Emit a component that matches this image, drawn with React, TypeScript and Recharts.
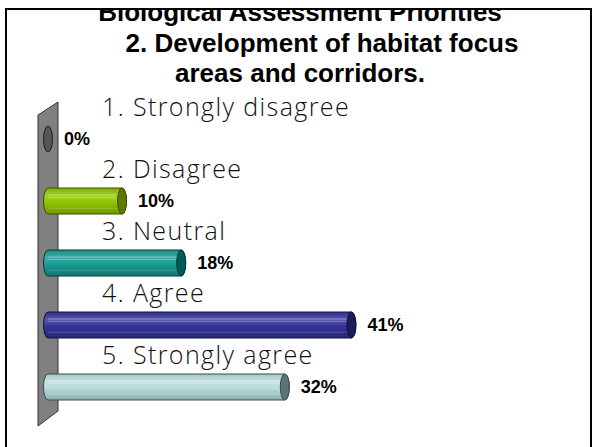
import React from 'react';
import { BarChart, Bar, XAxis, YAxis, LabelList, ReferenceArea } from 'recharts';

const categories = ['1. Strongly disagree', '2. Disagree', '3. Neutral', '4. Agree', '5. Strongly agree'];
const values = [0, 10, 18, 41, 32];
const valueLabels = ['0%', '10%', '18%', '41%', '32%'];
const bodyColors = ['#6a6a6a', '#8fc400', '#1a9a94', '#33339a', '#b8dcdc'];
const capColors = ['#555555', '#5c7a00', '#005a55', '#1c1c5c', '#5a7474'];
const titleLines = ['Biological Assessment Priorities', '2. Development of habitat focus', 'areas and corridors.'];

const data = categories.map((name, i) => ({ name, value: values[i], label: valueLabels[i] }));

const W = 594;
const H = 447;

function mix(hex: string, target: string, t: number): string {
  const p = (h: string) => [1, 3, 5].map((k) => parseInt(h.slice(k, k + 2), 16));
  const a = p(hex);
  const b = p(target);
  const c = a.map((v, i) => Math.round(v + (b[i] - v) * t));
  return '#' + c.map((v) => v.toString(16).padStart(2, '0')).join('');
}

const Cylinder = (props: any) => {
  const { x, y, width, height, index } = props;
  const rx = 4.5;
  const ry = height / 2;
  const cy = y + ry;
  const body = bodyColors[index];
  const cap = capColors[index];
  const edge = mix(cap, '#000000', 0.35);
  if (!width || width < 0.5) {
    return <ellipse cx={x} cy={cy} rx={rx} ry={ry} fill={cap} stroke="#222" strokeWidth={1} />;
  }
  const x2 = x + width;
  const id = `cyl-grad-${index}`;
  const d = `M ${x} ${y} L ${x2} ${y} A ${rx} ${ry} 0 0 1 ${x2} ${y + height} L ${x} ${y + height} A ${rx} ${ry} 0 0 1 ${x} ${y} Z`;
  return (
    <g>
      <defs>
        <linearGradient id={id} x1="0" y1="0" x2="0" y2="1">
          <stop offset="0" stopColor={mix(body, '#000000', 0.1)} />
          <stop offset="0.3" stopColor={mix(body, '#ffffff', 0.18)} />
          <stop offset="0.55" stopColor={body} />
          <stop offset="1" stopColor={mix(body, '#000000', 0.22)} />
        </linearGradient>
      </defs>
      <path d={d} fill={`url(#${id})`} stroke={edge} strokeWidth={1} />
      <line x1={x} x2={x2} y1={y + height * 0.27} y2={y + height * 0.27} stroke="#ffffff" strokeOpacity={0.35} strokeWidth={1} />
      <line x1={x} x2={x2} y1={y + height * 0.36} y2={y + height * 0.36} stroke="#ffffff" strokeOpacity={0.25} strokeWidth={1} />
      <line x1={x} x2={x2} y1={y + height * 0.78} y2={y + height * 0.78} stroke="#ffffff" strokeOpacity={0.18} strokeWidth={1} />
      <ellipse cx={x2} cy={cy} rx={rx} ry={ry} fill={cap} stroke={edge} strokeWidth={1} />
    </g>
  );
};

const Wall = (props: any) => {
  const { x, y, height } = props;
  const top = y;
  const bottom = y + height;
  const pts = [
    [x - 10, top + 7],
    [x + 10, top - 6],
    [x + 10, bottom - 7],
    [x - 10, bottom + 8],
  ]
    .map((p) => p.join(','))
    .join(' ');
  return <polygon points={pts} fill="#808080" stroke="#333333" strokeWidth={1} />;
};

const CategoryLabel = (props: any) => {
  const { x, y, height, index } = props;
  return (
    <text
      x={x + 54}
      y={y + height / 2 - 23}
      fontFamily="'Open Sans', sans-serif"
      fontWeight={300}
      fontSize={25}
      letterSpacing={1.4}
      fill="#111111"
    >
      {categories[index]}
    </text>
  );
};

const ValueLabel = (props: any) => {
  const { x, y, width, height, index } = props;
  return (
    <text
      x={x + (width || 0) + 16}
      y={y + height / 2}
      dominantBaseline="central"
      fontFamily="'Liberation Sans', Arial, sans-serif"
      fontWeight="bold"
      fontSize={18}
      fill="#000000"
    >
      {valueLabels[index]}
    </text>
  );
};

export default function App() {
  return (
    <div style={{ position: 'fixed', left: 0, top: 0, width: W, height: H, overflow: 'hidden', background: '#ffffff' }}>
      <div style={{ position: 'absolute', left: 0, top: 0 }}>
        <BarChart
          width={W}
          height={H}
          data={data}
          layout="vertical"
          margin={{ top: 108, right: 176, bottom: 29, left: 48 }}
        >
          <XAxis type="number" domain={[0, 50]} hide />
          <YAxis type="category" dataKey="name" hide />
          <ReferenceArea ifOverflow="visible" shape={Wall} fill="#808080" />
          <Bar dataKey="value" barSize={26} shape={Cylinder} isAnimationActive={false}>
            <LabelList dataKey="name" content={CategoryLabel} />
            <LabelList dataKey="label" content={ValueLabel} />
          </Bar>
        </BarChart>
      </div>
      <svg width={W} height={H} style={{ position: 'absolute', left: 0, top: 0, pointerEvents: 'none' }}>
        <defs>
          <clipPath id="title-clip">
            <rect x={7} y={10} width={583} height={440} />
          </clipPath>
        </defs>
        <g clipPath="url(#title-clip)" fontFamily="'Liberation Sans', Arial, sans-serif" fontWeight="bold" fontSize={26} fill="#000000">
          <text x={300} y={21} textAnchor="middle">{titleLines[0]}</text>
          <text x={322} y={52} textAnchor="middle">{titleLines[1]}</text>
          <text x={300} y={82} textAnchor="middle">{titleLines[2]}</text>
        </g>
        <rect x={6} y={9} width={585} height={460} fill="none" stroke="#000000" strokeWidth={2} />
      </svg>
    </div>
  );
}
